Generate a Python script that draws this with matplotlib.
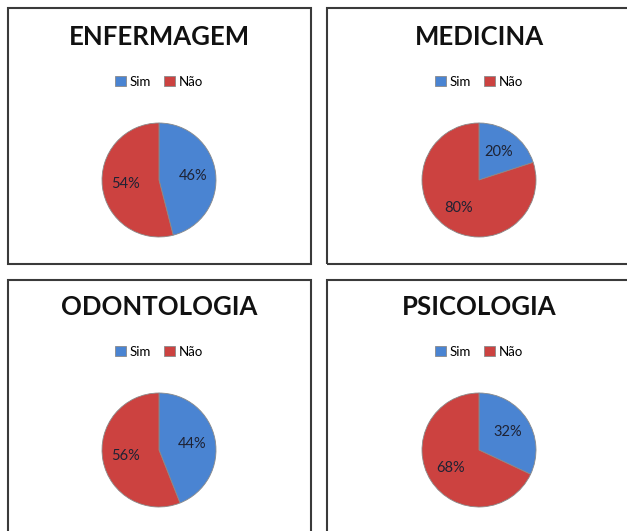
import matplotlib.pyplot as plt
from matplotlib.patches import Rectangle

cursos = ['ENFERMAGEM', 'MEDICINA', 'ODONTOLOGIA', 'PSICOLOGIA']
sim = [46, 20, 44, 32]
nao = [54, 80, 56, 68]
respostas = ['Sim', 'Não']
cores = ['#4A84D2', '#CC4240']

W, H = 627, 531
fig = plt.figure(figsize=(W / 100, H / 100), dpi=100)

def fx(x):
    return x / W

def fy(y):
    return 1 - y / H

# panel boxes in pixels: left, top, right, bottom (right column and bottom row run off the image)
panels = [(8, 8, 311, 264), (327, 8, 640, 264), (8, 280, 311, 545), (327, 280, 640, 545)]
centers = [(159, 180), (479, 180), (159, 450), (479, 450)]
R = 57

for i, curso in enumerate(cursos):
    l, t, r, b = panels[i]
    fig.patches.append(Rectangle((fx(l), fy(b)), fx(r) - fx(l), fy(t) - fy(b),
                                 transform=fig.transFigure, fill=False,
                                 edgecolor='#3a3a3a', linewidth=1.5))
    cx, cy = centers[i]
    ax = fig.add_axes([fx(cx - R), fy(cy + R), 2 * R / W, 2 * R / H])
    wedges, texts, autotexts = ax.pie([sim[i], nao[i]], colors=cores, startangle=90,
                                      counterclock=False, autopct='%d%%', pctdistance=0.6,
                                      wedgeprops=dict(edgecolor='#8a8a8a', linewidth=0.6),
                                      textprops=dict(color='#1e2233', fontsize=10.5, family='Lato'))
    ax.set_xlim(-1, 1)
    ax.set_ylim(-1, 1)
    ax.set_aspect('equal')
    ax.axis('off')

    fig.text(fx(cx), fy(37 + 270 * (i // 2)), curso, ha='center', va='center',
             fontsize=18.5, fontweight='bold', family='Lato', color='#111111')
    fig.legend(wedges, respostas, loc='center', ncol=2, frameon=False,
               bbox_to_anchor=(fx(cx), fy(82 + 270 * (i // 2))),
               bbox_transform=fig.transFigure, handlelength=0.8, handleheight=0.8,
               handletextpad=0.3, columnspacing=1.0,
               prop=dict(family='Lato', size=9.5))

fig.savefig('out.png', dpi=100)
